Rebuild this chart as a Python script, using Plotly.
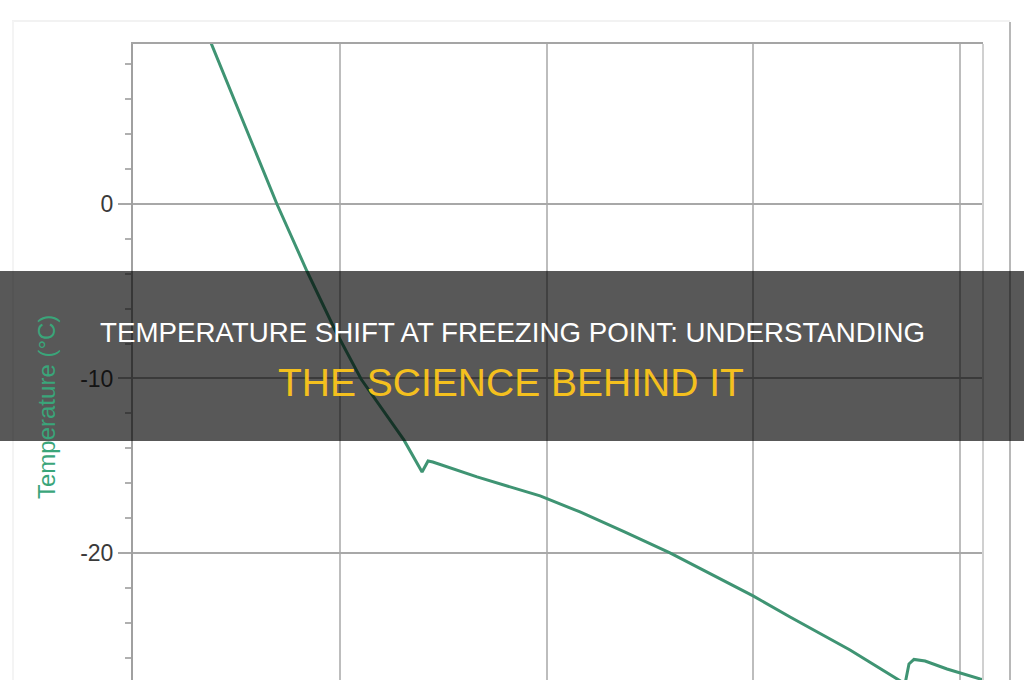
import plotly.graph_objects as go

# ---- data ----
time_s = [33.0, 38.2, 50.0, 60.0, 69.6, 84.1, 97.7, 110.3, 131.0, 139.8, 142.7, 145.0,
          166.4, 196.9, 216.2, 238.0, 259.7, 299.9, 317.8, 346.8, 361.3, 373.4,
          375.3, 377.7, 383.1, 393.7, 409.7, 416.9]
temperature_c = [10.6, 9.11, 5.69, 2.79, 0.0, -3.84, -7.22, -10.03, -13.52, -15.36, -14.73, -14.79,
                 -15.64, -16.73, -17.65, -18.80, -20.0, -22.46, -23.67, -25.56, -26.59, -27.50,
                 -26.36, -26.10, -26.19, -26.65, -27.22, -27.45]

y_tick_vals = [-20, -10, 0]
y_tick_text = ["-20", "-10", "0"]

y_title = "Temperature (°C)"
banner_line1 = "TEMPERATURE SHIFT AT FREEZING POINT: UNDERSTANDING"
banner_line2 = "THE SCIENCE BEHIND IT"

W, H = 1024, 680
L, R, T, B = 133, 41, 44, 0
pw, ph = W - L - R, H - T - B


def px_x(p):
    return (p - L) / pw


def px_y(p):
    return (H - B - p) / ph


fig = go.Figure()
fig.add_trace(go.Scatter(
    x=time_s, y=temperature_c, mode="lines",
    line=dict(color="#3f9473", width=3),
    showlegend=False, hoverinfo="skip",
))

fig.update_layout(
    width=W, height=H,
    margin=dict(l=L, r=R, t=T, b=B, pad=0),
    paper_bgcolor="white", plot_bgcolor="white",
    xaxis=dict(
        range=[0, 411.1], side="top", showticklabels=False, ticks="",
        showgrid=True, gridcolor="#bdbdbd", gridwidth=2, tick0=0, dtick=100,
        zeroline=False, showline=True, linecolor="#a5a5a5", linewidth=2,
    ),
    yaxis=dict(
        range=[-27.28, 9.17], tickmode="array", tickvals=y_tick_vals, ticktext=y_tick_text,
        ticks="outside", ticklen=13, tickcolor="#a8a8a8", tickwidth=2,
        tickfont=dict(family="Liberation Sans, Arial", size=23, color="#3a3a3a"),
        showgrid=True, gridcolor="#a8a8a8", gridwidth=2,
        zeroline=False, showline=True, linecolor="#a0a0a0", linewidth=2,
        minor=dict(tickmode="linear", tick0=0, dtick=2, ticks="outside", ticklen=6,
                   tickcolor="#b0b0b0", tickwidth=1.5, showgrid=False),
    ),
    shapes=[
        # right border of plot
        dict(type="line", xref="paper", yref="paper", x0=1, x1=1, y0=0, y1=1,
             line=dict(color="#d0d0d0", width=2), layer="above"),
        # faint outer frame
        dict(type="line", xref="paper", yref="paper", x0=px_x(1010), x1=px_x(1010),
             y0=px_y(680), y1=px_y(22), line=dict(color="#b8b8b8", width=2), layer="below"),
        dict(type="line", xref="paper", yref="paper", x0=px_x(12), x1=px_x(1010),
             y0=px_y(21), y1=px_y(21), line=dict(color="#f2f2f2", width=2), layer="below"),
        dict(type="line", xref="paper", yref="paper", x0=px_x(13), x1=px_x(13),
             y0=px_y(680), y1=px_y(21), line=dict(color="#f4f4f4", width=2), layer="below"),
        # dark banner
        dict(type="rect", xref="paper", yref="paper", x0=px_x(-5), x1=px_x(W + 5),
             y0=px_y(441), y1=px_y(271), fillcolor="rgba(0,0,0,0.655)",
             line=dict(width=0), layer="above"),
    ],
    annotations=[
        dict(text=y_title, xref="paper", yref="paper", x=px_x(47), y=px_y(407),
             xanchor="center", yanchor="middle", textangle=-90, showarrow=False,
             font=dict(family="Liberation Sans, Arial", size=24, color="#3aa57a")),
        dict(text=banner_line1, xref="paper", yref="paper", x=px_x(512), y=px_y(333),
             xanchor="center", yanchor="middle", showarrow=False,
             font=dict(family="Liberation Sans, Arial", size=27.7, color="white")),
        dict(text=banner_line2, xref="paper", yref="paper", x=px_x(511), y=px_y(382),
             xanchor="center", yanchor="middle", showarrow=False,
             font=dict(family="Liberation Sans, Arial", size=39, color="#f4c01e")),
    ],
)

fig.write_html(
    "out.html",
    config={"displayModeBar": False},
    post_script="document.body.style.margin='0';document.body.style.overflow='hidden';",
)
